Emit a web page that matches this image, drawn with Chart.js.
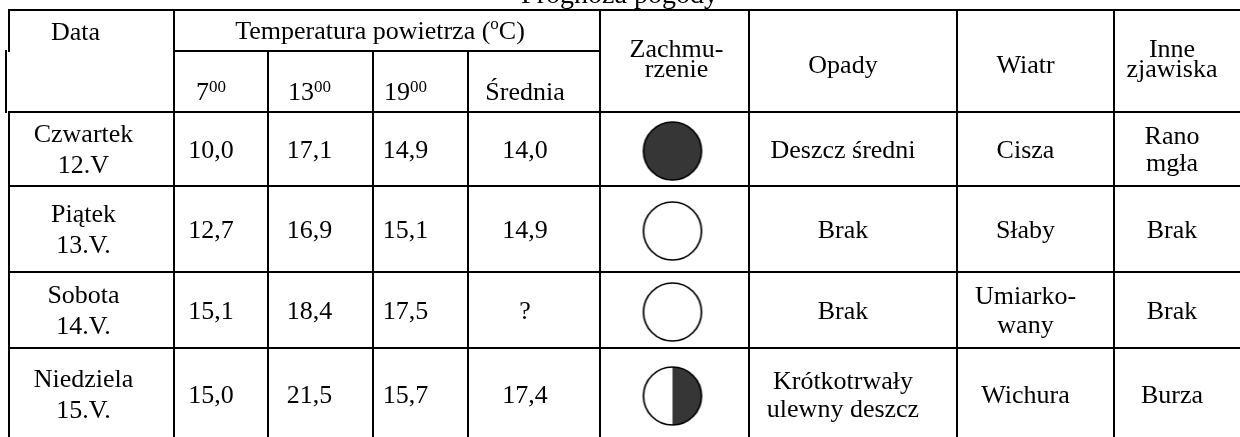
<!DOCTYPE html>
<html>
<head>
<meta charset="utf-8">
<script src="https://cdn.jsdelivr.net/npm/chart.js@4.4.1/dist/chart.umd.min.js"></script>
<style>
  html, body { margin: 0; padding: 0; background: #fff; overflow: hidden; }
  #wrap { width: 1240px; height: 437px; overflow: hidden; }
</style>
</head>
<body>
<div id="wrap"><canvas id="forecastCanvas" width="1240" height="470"></canvas></div>
<script>
// table content
const title = 'Prognoza pogody';
const days = [['Czwartek', '12.V'], ['Piątek', '13.V.'], ['Sobota', '14.V.'], ['Niedziela', '15.V.']];
const hours = ['7', '13', '19'];
const temp7 = [10.0, 12.7, 15.1, 15.0];
const temp13 = [17.1, 16.9, 18.4, 21.5];
const temp19 = [14.9, 15.1, 17.5, 15.7];
const tempAvg = [14.0, 14.9, null, 17.4];   // null = "?"
const cloudCover = [1, 0, 0, 0.5];           // 1 full, 0.5 half, 0 clear
const rain = [['Deszcz średni'], ['Brak'], ['Brak'], ['Krótkotrwały', 'ulewny deszcz']];
const wind = [['Cisza'], ['Słaby'], ['Umiarko-', 'wany'], ['Wichura']];
const other = [['Rano', 'mgła'], ['Brak'], ['Brak'], ['Burza']];

// grid layout (table units)
const colWidths = [165, 94, 105, 95, 132, 149, 208, 157, 126];
const colShift = [-8, -10, -11, -15, -9, 0, -10, -10, -5];
const rowHeights = [41, 61, 74, 86, 76, 92];

const FONT = 26;
const SUP = 17;
const CAP = 0.331 * FONT;
const serif = '"Liberation Serif", "Times New Roman", serif';

const colEdges = [0];
colWidths.forEach(w => colEdges.push(colEdges[colEdges.length - 1] + w));
const rowEdges = [0];
rowHeights.forEach(h => rowEdges.push(rowEdges[rowEdges.length - 1] + h));
const colMid = i => (colEdges[i] + colEdges[i + 1]) / 2 + colShift[i];
const rowMid = i => (rowEdges[i] + rowEdges[i + 1]) / 2;

const fmt = v => v === null ? '?' : v.toFixed(1).replace('.', ',');

// cloud symbols as point styles
function cloudIcon(frac) {
  const c = document.createElement('canvas');
  c.width = 64; c.height = 64;
  const g = c.getContext('2d');
  g.fillStyle = '#fff';
  g.beginPath(); g.arc(32, 32, 29, 0, Math.PI * 2); g.fill();
  if (frac > 0) {
    g.fillStyle = '#363636';
    g.beginPath();
    g.moveTo(32, 32);
    g.arc(32, 32, 29, -Math.PI / 2, -Math.PI / 2 + Math.PI * 2 * frac);
    g.closePath();
    g.fill();
  }
  g.strokeStyle = '#000';
  g.lineWidth = 1.7;
  g.beginPath(); g.arc(32, 32, 29, 0, Math.PI * 2); g.stroke();
  return c;
}

function drawRuns(ctx, runs, cx, baseline) {
  let total = 0;
  runs.forEach(r => {
    ctx.font = (r.size || FONT) + 'px ' + serif;
    r.w = ctx.measureText(r.t).width;
    total += r.w;
  });
  let xPos = cx - total / 2;
  ctx.textAlign = 'left';
  ctx.textBaseline = 'alphabetic';
  ctx.fillStyle = '#000';
  runs.forEach(r => {
    ctx.font = (r.size || FONT) + 'px ' + serif;
    ctx.fillText(r.t, xPos, baseline + (r.dy || 0));
    xPos += r.w;
  });
}

function drawLines(ctx, lines, cx, cy, gap) {
  lines.forEach((line, i) => {
    const base = cy - (lines.length - 1) * gap / 2 + i * gap + CAP;
    drawRuns(ctx, [{ t: line }], cx, base);
  });
}

const tablePlugin = {
  id: 'forecastTable',
  beforeDatasetsDraw(chart) {
    const { ctx, scales: { x, y } } = chart;
    const px = v => x.getPixelForValue(v);
    const py = v => y.getPixelForValue(v);
    const last = rowEdges[rowEdges.length - 1];

    ctx.save();
    ctx.strokeStyle = '#000';
    ctx.lineWidth = 2;
    ctx.lineCap = 'square';
    const seg = (x1, y1, x2, y2) => { ctx.beginPath(); ctx.moveTo(x1, y1); ctx.lineTo(x2, y2); ctx.stroke(); };

    // horizontal rules
    seg(px(0), py(0), px(colEdges[9]), py(0));
    seg(px(colEdges[1]), py(rowEdges[1]), px(colEdges[5]), py(rowEdges[1]));
    for (let r = 2; r < rowEdges.length - 1; r++) {
      seg(px(0), py(rowEdges[r]), px(colEdges[9]), py(rowEdges[r]));
    }
    // left border (slightly offset in the second header line, as scanned)
    seg(px(0), py(0), px(0), py(rowEdges[1]));
    seg(px(0) - 3, py(rowEdges[1]), px(0) - 3, py(rowEdges[2]));
    seg(px(0), py(rowEdges[2]), px(0), py(last));
    // inner verticals
    for (let c = 1; c < 9; c++) {
      const top = (c >= 2 && c <= 4) ? rowEdges[1] : 0;
      seg(px(colEdges[c]), py(top), px(colEdges[c]), py(last));
    }
    ctx.restore();

    // title (mostly above the page edge)
    ctx.save();
    drawRuns(ctx, [{ t: title, size: 28 }], px(colEdges[9] / 2) - 5, 3);

    // header line 1
    drawRuns(ctx, [{ t: 'Data' }], px(colMid(0) - 8), py(rowMid(0) + 1) + CAP);
    drawRuns(ctx, [
      { t: 'Temperatura powietrza (' },
      { t: 'o', size: SUP, dy: -10 },
      { t: 'C)' }
    ], px((colEdges[1] + colEdges[5]) / 2 - 7), py(rowMid(0)) + CAP);

    // header line 2
    const subBase = py(rowMid(1) + 10) + CAP;
    hours.forEach((h, i) => {
      drawRuns(ctx, [{ t: h }, { t: '00', size: SUP, dy: -8 }], px(colMid(i + 1)), subBase);
    });
    drawRuns(ctx, [{ t: 'Średnia' }], px(colMid(4)), subBase);

    // merged header cells
    const hMid = (rowEdges[0] + rowEdges[2]) / 2;
    drawLines(ctx, ['Zachmu-', 'rzenie'], px(colMid(5) + 2), py(hMid - 3), 20);
    drawLines(ctx, ['Opady'], px(colMid(6)), py(hMid + 3), 20);
    drawLines(ctx, ['Wiatr'], px(colMid(7)), py(hMid + 3), 20);
    drawLines(ctx, ['Inne', 'zjawiska'], px(colMid(8)), py(hMid - 3), 20);

    // body rows
    days.forEach((d, i) => {
      const r = i + 2;
      const cy = py(rowMid(r));
      drawLines(ctx, d, px(colMid(0)), cy, 31);
      [temp7, temp13, temp19, tempAvg].forEach((arr, k) => {
        drawLines(ctx, [fmt(arr[i])], px(colMid(k + 1)), cy, 29);
      });
      drawLines(ctx, rain[i], px(colMid(6)), cy, 28);
      drawLines(ctx, wind[i], px(colMid(7)), cy, 29);
      drawLines(ctx, other[i], px(colMid(8)), cy, 27);
    });
    ctx.restore();
  }
};

const cloudPoints = cloudCover.map((v, i) => ({ x: colMid(5) - 2, y: rowMid(i + 2) + 2 }));

const forecastChart = new Chart(document.getElementById('forecastCanvas'), {
  type: 'scatter',
  data: {
    datasets: [{
      label: 'Zachmurzenie',
      data: cloudPoints,
      pointStyle: cloudCover.map(cloudIcon),
      pointRadius: 29,
      pointHoverRadius: 29,
      clip: false
    }]
  },
  options: {
    responsive: false,
    animation: false,
    events: [],
    layout: { autoPadding: false, padding: { left: 9, top: 10, right: 0, bottom: 30 } },
    scales: {
      x: { type: 'linear', display: false, min: 0, max: colEdges[colEdges.length - 1] },
      y: { type: 'linear', display: false, min: 0, max: rowEdges[rowEdges.length - 1], reverse: true }
    },
    plugins: { legend: { display: false }, tooltip: { enabled: false } }
  },
  plugins: [tablePlugin]
});
</script>
</body>
</html>
